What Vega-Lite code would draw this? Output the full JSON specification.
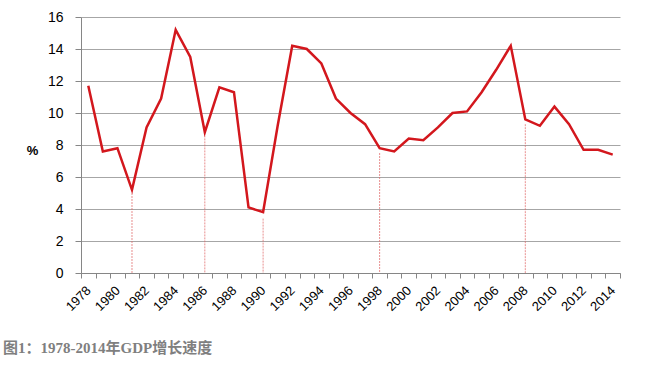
{
  "$schema": "https://vega.github.io/schema/vega-lite/v6.json",
  "width": 539,
  "height": 256,
  "autosize": "none",
  "padding": {"left": 81, "top": 17, "right": 27, "bottom": 92},
  "background": "white",
  "config": {"view": {"stroke": null}},
  "title": {
    "text": "图1：1978-2014年GDP增长速度",
    "orient": "bottom",
    "anchor": "start",
    "frame": "group",
    "dx": -78,
    "offset": 28,
    "font": "Liberation Serif, Noto Sans CJK SC",
    "fontSize": 15,
    "fontWeight": "bold",
    "color": "#7f7f7f"
  },
  "datasets": {
    "gdp": [
      {"year": 1978, "growth": 11.7}, {"year": 1979, "growth": 7.6}, {"year": 1980, "growth": 7.8},
      {"year": 1981, "growth": 5.2}, {"year": 1982, "growth": 9.1}, {"year": 1983, "growth": 10.9},
      {"year": 1984, "growth": 15.2}, {"year": 1985, "growth": 13.5}, {"year": 1986, "growth": 8.8},
      {"year": 1987, "growth": 11.6}, {"year": 1988, "growth": 11.3}, {"year": 1989, "growth": 4.1},
      {"year": 1990, "growth": 3.8}, {"year": 1991, "growth": 9.2}, {"year": 1992, "growth": 14.2},
      {"year": 1993, "growth": 14.0}, {"year": 1994, "growth": 13.1}, {"year": 1995, "growth": 10.9},
      {"year": 1996, "growth": 10.0}, {"year": 1997, "growth": 9.3}, {"year": 1998, "growth": 7.8},
      {"year": 1999, "growth": 7.6}, {"year": 2000, "growth": 8.4}, {"year": 2001, "growth": 8.3},
      {"year": 2002, "growth": 9.1}, {"year": 2003, "growth": 10.0}, {"year": 2004, "growth": 10.1},
      {"year": 2005, "growth": 11.3}, {"year": 2006, "growth": 12.7}, {"year": 2007, "growth": 14.2},
      {"year": 2008, "growth": 9.6}, {"year": 2009, "growth": 9.2}, {"year": 2010, "growth": 10.4},
      {"year": 2011, "growth": 9.3}, {"year": 2012, "growth": 7.7}, {"year": 2013, "growth": 7.7},
      {"year": 2014, "growth": 7.4}
    ],
    "marks": [
      {"year": 1981, "top": 5.0, "base": 0},
      {"year": 1986, "top": 8.6, "base": 0},
      {"year": 1990, "top": 3.4, "base": 0},
      {"year": 1998, "top": 7.5, "base": 0},
      {"year": 2008, "top": 9.3, "base": 0}
    ]
  },
  "layer": [
    {
      "data": {"name": "gdp"},
      "mark": {"type": "line", "color": "#d3171d", "strokeWidth": 2.5, "strokeJoin": "miter"},
      "encoding": {
        "x": {
          "field": "year",
          "type": "quantitative",
          "scale": {"domain": [1977.5, 2014.5], "nice": false, "zero": false},
          "axis": {
            "title": null,
            "grid": false,
            "tickCount": 100,
            "values": [1977.5, 1978, 1978.5, 1979.5, 1980, 1980.5, 1981.5, 1982, 1982.5, 1983.5, 1984, 1984.5, 1985.5, 1986, 1986.5, 1987.5, 1988, 1988.5, 1989.5, 1990, 1990.5, 1991.5, 1992, 1992.5, 1993.5, 1994, 1994.5, 1995.5, 1996, 1996.5, 1997.5, 1998, 1998.5, 1999.5, 2000, 2000.5, 2001.5, 2002, 2002.5, 2003.5, 2004, 2004.5, 2005.5, 2006, 2006.5, 2007.5, 2008, 2008.5, 2009.5, 2010, 2010.5, 2011.5, 2012, 2012.5, 2013.5, 2014, 2014.5],
            "labelExpr": "datum.value % 1 == 0 ? '' + datum.value : ''",
            "labelAngle": -45,
            "labelAlign": "right",
            "labelBaseline": "middle",
            "labelFont": "Liberation Sans",
            "labelFontSize": 13,
            "labelColor": "#000000",
            "labelOverlap": false,
            "labelFlush": false,
            "labelPadding": 10,
            "tickSize": 5,
            "tickColor": "#868686",
            "tickOpacity": {"condition": {"test": "datum.value % 1 == 0", "value": 0}, "value": 1},
            "domainColor": "#868686",
            "domainWidth": 1
          }
        },
        "y": {
          "field": "growth",
          "type": "quantitative",
          "scale": {"domain": [0, 16], "nice": false},
          "axis": {
            "title": "%",
            "titleAngle": 0,
            "titleX": -49,
            "titleY": 133,
            "titleAlign": "center",
            "titleBaseline": "middle",
            "titleFont": "Liberation Sans",
            "titleFontSize": 13,
            "titleFontWeight": "bold",
            "titleColor": "#000000",
            "tickCount": 20,
            "values": [0, 2, 4, 6, 8, 10, 12, 14, 16],
            "labelOverlap": false,
            "grid": true,
            "gridColor": "#a6a6a6",
            "gridWidth": 1,
            "labelFont": "Liberation Sans",
            "labelFontSize": 14,
            "labelColor": "#000000",
            "labelPadding": 12,
            "tickSize": 6,
            "tickColor": "#868686",
            "domainColor": "#868686"
          }
        }
      }
    },
    {
      "data": {"name": "marks"},
      "mark": {"type": "rule", "color": "#e06a6a", "strokeWidth": 1, "strokeDash": [2, 1], "opacity": 0.75},
      "encoding": {
        "x": {"field": "year", "type": "quantitative"},
        "y": {"field": "top", "type": "quantitative"},
        "y2": {"field": "base"}
      }
    }
  ]
}
